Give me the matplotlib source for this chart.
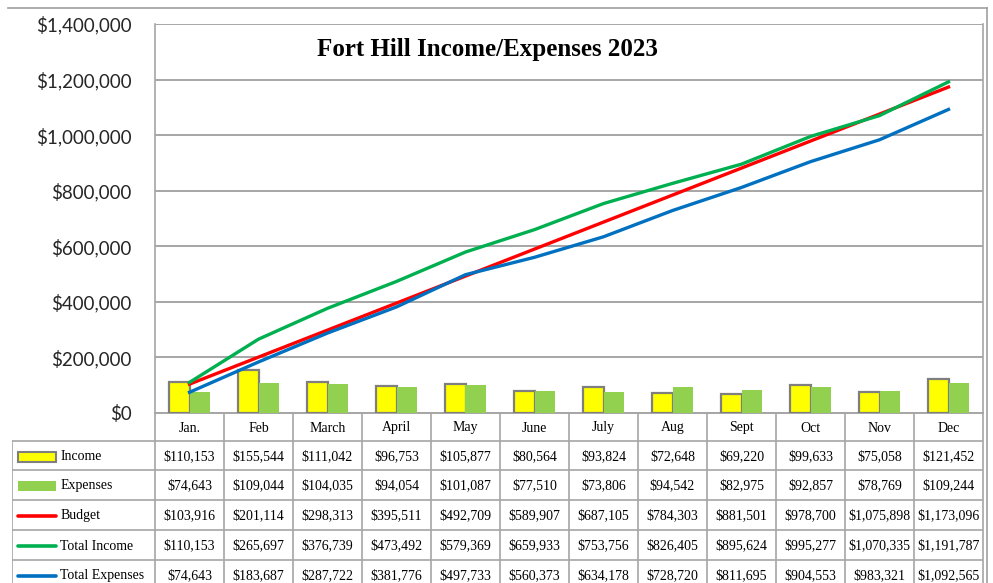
import matplotlib
matplotlib.use("Agg")
import matplotlib.pyplot as plt
import matplotlib.patches as mpatches
import numpy as np

months = ["Jan.", "Feb", "March", "April", "May", "June", "July", "Aug", "Sept", "Oct", "Nov", "Dec"]
income = [110153, 155544, 111042, 96753, 105877, 80564, 93824, 72648, 69220, 99633, 75058, 121452]
expenses = [74643, 109044, 104035, 94054, 101087, 77510, 73806, 94542, 82975, 92857, 78769, 109244]
budget = [103916, 201114, 298313, 395511, 492709, 589907, 687105, 784303, 881501, 978700, 1075898, 1173096]
total_income = [110153, 265697, 376739, 473492, 579369, 659933, 753756, 826405, 895624, 995277, 1070335, 1191787]
total_expenses = [74643, 183687, 287722, 381776, 497733, 560373, 634178, 728720, 811695, 904553, 983321, 1092565]
series_names = ["Income", "Expenses", "Budget", "Total Income", "Total Expenses"]
yticks = [0, 200000, 400000, 600000, 800000, 1000000, 1200000, 1400000]
title = "Fort Hill Income/Expenses 2023"

C_YEL = "#FFFF00"
C_GRN = "#92D050"
C_RED = "#FF0000"
C_TI = "#00B050"
C_TE = "#0070C0"
C_GRID = "#A6A6A6"
C_EDGE = "#7F7F7F"

W, H = 993, 583
fig = plt.figure(figsize=(W / 100, H / 100), dpi=100)

def px(x0, y0, x1, y1):
    return [x0 / W, 1 - y1 / H, (x1 - x0) / W, (y1 - y0) / H]

# main plot area
ax = fig.add_axes(px(155, 24, 983, 413))
x = np.arange(len(months))
bw = 0.29
ax.bar(x - bw / 2, income, bw, color=C_YEL, edgecolor=C_EDGE, linewidth=1.6, zorder=3)
ax.bar(x + bw / 2, expenses, bw, color=C_GRN, edgecolor="none", zorder=3)
ax.plot(x, budget, color=C_RED, lw=2.4, zorder=4)
ax.plot(x, total_expenses, color=C_TE, lw=2.4, zorder=4)
ax.plot(x, total_income, color=C_TI, lw=2.4, zorder=5)
ax.set_xlim(-0.5, len(months) - 0.5)
ax.set_ylim(0, 1400000)
ax.set_yticks(yticks)
ax.set_yticklabels(["${:,}".format(v) for v in yticks], fontsize=13.5, family="Lato", color="#262626")
ax.tick_params(axis="y", length=0, pad=17)
ax.set_xticks([])
ax.grid(axis="y", color=C_GRID, lw=1.4, zorder=0)
for s in ax.spines.values():
    s.set_color(C_GRID)
    s.set_linewidth(1.2)
ax.spines["top"].set_visible(False)
ax.text(0.401, 0.935, title, transform=ax.transAxes, ha="center", va="center",
        fontsize=18, fontweight="bold", family="Liberation Serif")

# table area
tab = fig.add_axes(px(12, 413, 983, 583))
lab_w = (155 - 12) / ((983 - 155) / 12)
x_left = -0.5 - lab_w
tab.set_xlim(x_left, len(months) - 0.5)
tab.set_ylim(170, 0)
tab.axis("off")
lc = C_GRID
tfont = dict(family="Liberation Serif", fontsize=10, color="#000000")
# header row
for i, m in enumerate(months):
    tab.text(i, 15, m, ha="center", va="center", **tfont)
for i in range(len(months) + 1):
    tab.plot([i - 0.5, i - 0.5], [0, 175], color=lc, lw=1.2, clip_on=False)
tab.plot([x_left, x_left], [28, 175], color=lc, lw=1.2)
row_top = [28, 57, 87, 117, 147]
for y in row_top:
    tab.plot([x_left, len(months) - 0.5], [y, y], color=lc, lw=1.2)
tab.plot([-0.5, len(months) - 0.5], [0, 0], color=lc, lw=1.2)
rows = [income, expenses, budget, total_income, total_expenses]
for r, (name, vals) in enumerate(zip(series_names, rows)):
    yc = row_top[r] + 16
    tab.text(x_left + 0.70, yc, name, ha="left", va="center", **tfont)
    for i, v in enumerate(vals):
        tab.text(i, yc, "${:,}".format(v), ha="center", va="center", **tfont)
# legend keys
kx0, kx1 = x_left + 0.09, x_left + 0.64
tab.add_patch(mpatches.Rectangle((kx0, row_top[0] + 11), kx1 - kx0, 10, facecolor=C_YEL,
                                 edgecolor=C_EDGE, lw=1.5))
tab.add_patch(mpatches.Rectangle((kx0, row_top[1] + 11), kx1 - kx0, 10, facecolor=C_GRN,
                                 edgecolor="none"))
for r, c in zip([2, 3, 4], [C_RED, C_TI, C_TE]):
    tab.plot([kx0, kx1], [row_top[r] + 16, row_top[r] + 16], color=c, lw=2.6, solid_capstyle="round")

# outer chart frame
fig.add_artist(plt.Line2D([8 / W, 987 / W], [1 - 8 / H, 1 - 8 / H], color="#A0A0A0", lw=1.2))
fig.add_artist(plt.Line2D([987 / W, 987 / W], [1 - 8 / H, 0], color="#A0A0A0", lw=1.2))

fig.savefig("out.png", dpi=100)
